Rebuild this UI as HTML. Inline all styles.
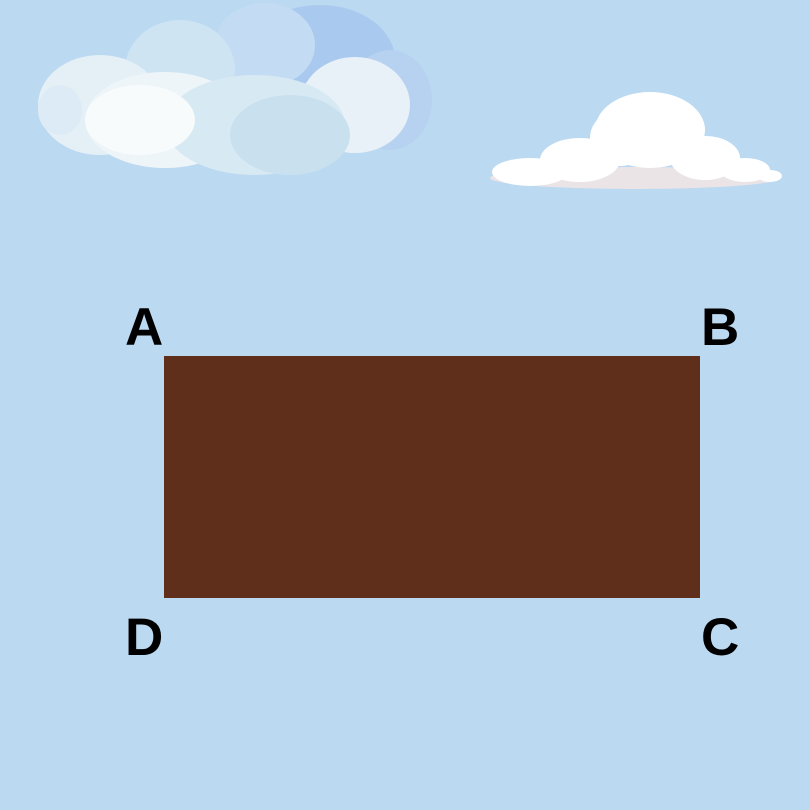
<!DOCTYPE html>
<html><head><meta charset="utf-8"><style>
html,body{margin:0;padding:0}
body{width:810px;height:810px;background:#bbd9f1;position:relative;overflow:hidden;font-family:"Liberation Sans",sans-serif}
.lbl{position:absolute;font-weight:bold;font-size:53px;color:#000;line-height:1}
</style></head><body>
<svg width="810" height="810" style="position:absolute;left:0;top:0">
<g>
<ellipse cx="320" cy="60" rx="75" ry="55" fill="#a9c9ee"/>
<ellipse cx="265" cy="45" rx="50" ry="42" fill="#c4dcf3"/>
<ellipse cx="390" cy="100" rx="42" ry="50" fill="#b7d1f0"/>
<ellipse cx="355" cy="105" rx="55" ry="48" fill="#e8f1f8"/>
<ellipse cx="180" cy="70" rx="55" ry="50" fill="#cfe4f2"/>
<ellipse cx="100" cy="105" rx="62" ry="50" fill="#e4f0f6"/>
<ellipse cx="60" cy="110" rx="22" ry="25" fill="#dcebf5"/>
<ellipse cx="165" cy="120" rx="80" ry="48" fill="#eef5f9"/>
<ellipse cx="255" cy="125" rx="90" ry="50" fill="#d7e9f3"/>
<ellipse cx="290" cy="135" rx="60" ry="40" fill="#c9e0ef"/>
<ellipse cx="140" cy="120" rx="55" ry="35" fill="#f7fbfc"/>
</g>
<g>
<ellipse cx="635" cy="178" rx="145" ry="11" fill="#ebe4e6"/>
<ellipse cx="530" cy="172" rx="38" ry="14" fill="#fff"/>
<ellipse cx="580" cy="160" rx="40" ry="22" fill="#fff"/>
<ellipse cx="650" cy="130" rx="55" ry="38" fill="#fff"/>
<ellipse cx="620" cy="138" rx="30" ry="28" fill="#fff"/>
<ellipse cx="705" cy="158" rx="35" ry="22" fill="#fff"/>
<ellipse cx="745" cy="170" rx="25" ry="12" fill="#fff"/>
<ellipse cx="770" cy="176" rx="12" ry="6" fill="#fff"/>
</g>
</svg>
<div style="position:absolute;left:164px;top:356px;width:536px;height:242px;background:#5f2f1c"></div>
<div class="lbl" style="left:125px;top:301px">A</div>
<div class="lbl" style="left:701px;top:301px">B</div>
<div class="lbl" style="left:125px;top:611px">D</div>
<div class="lbl" style="left:701px;top:611px">C</div>
</body></html>
